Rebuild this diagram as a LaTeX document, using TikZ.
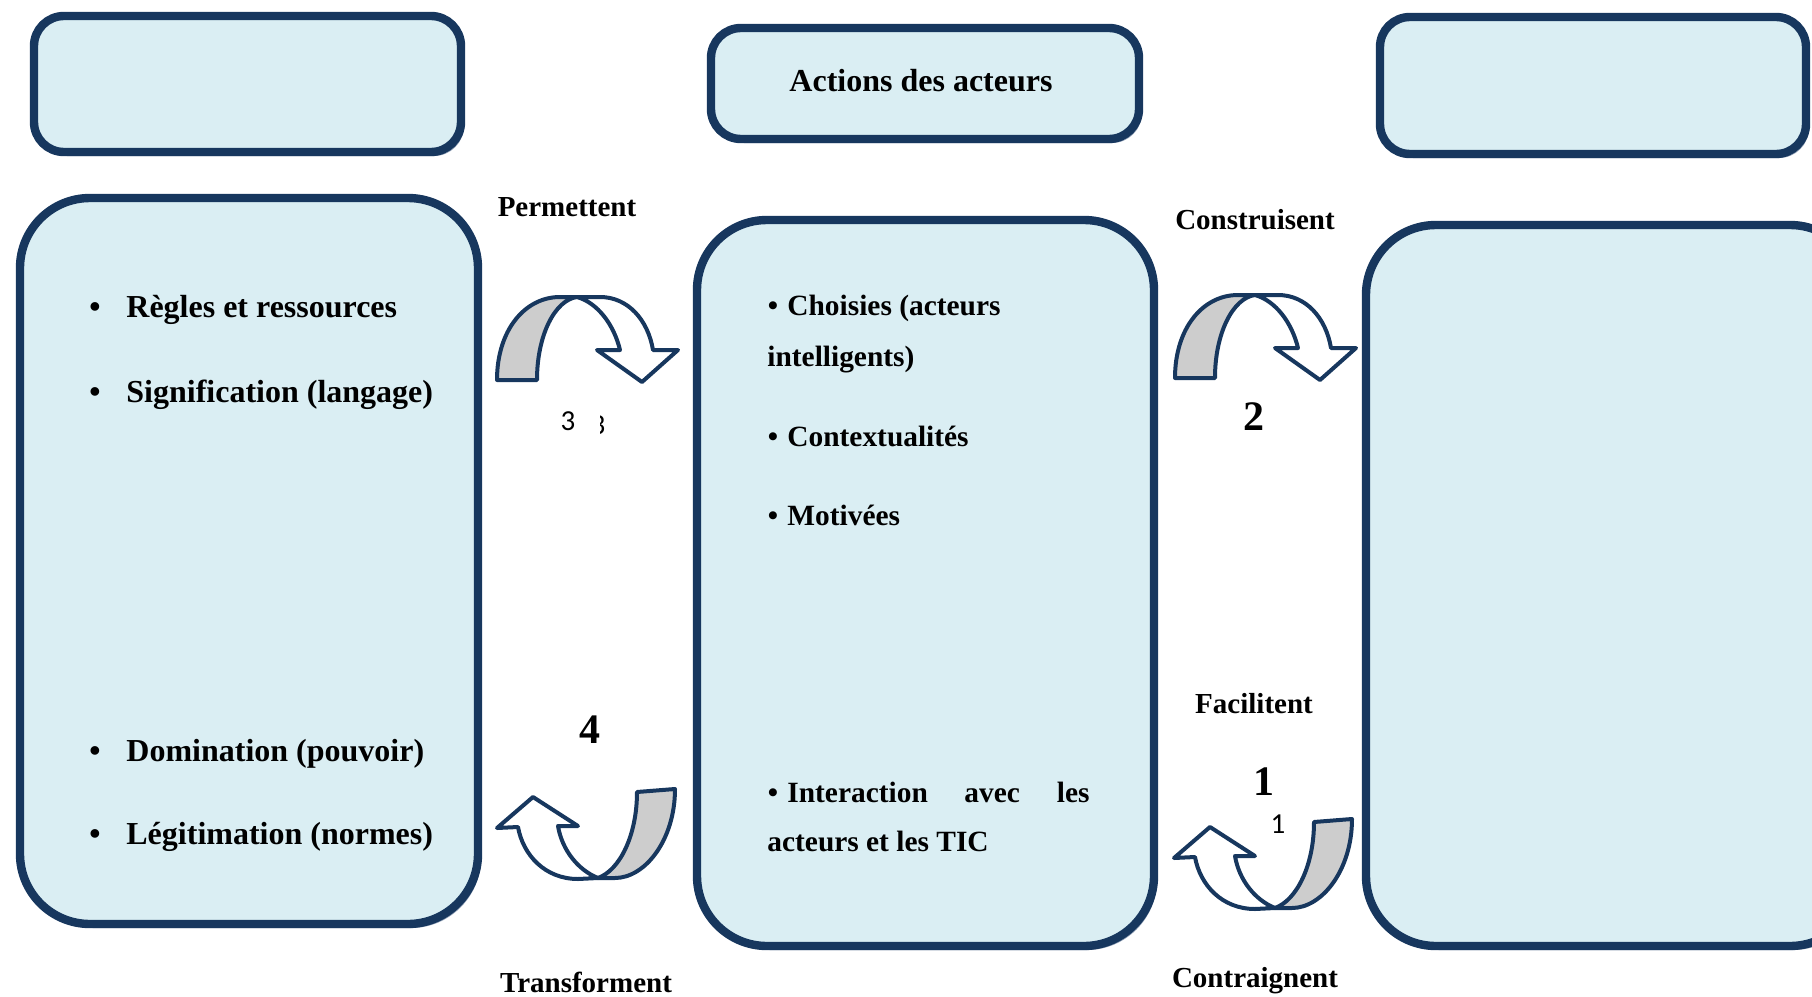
\documentclass[tikz,border=0pt]{standalone}
\usepackage{fontspec}
\setmainfont{Liberation Serif}
\newfontfamily\digitfont{Carlito}

\definecolor{boxfill}{HTML}{DAEEF3}
\definecolor{boxline}{HTML}{17375E}
\definecolor{boxshade}{HTML}{8E9EB4}
\definecolor{bandgray}{HTML}{CDCDCD}

\tikzset{
  panel/.style={draw=boxline, fill=boxfill, line width=4.2pt},
  panelshade/.style={fill=boxshade},
  band/.style={draw=boxline, line width=2pt, line join=round},
  itemtext/.style={font=\fontsize{16}{19}\selectfont\bfseries, inner sep=0pt, anchor=base west},
  dot/.style={font=\fontsize{16}{19}\selectfont\bfseries, inner sep=0pt, anchor=base},
  miditem/.style={font=\fontsize{14.7}{17}\selectfont\bfseries, inner sep=0pt, anchor=base west},
  middot/.style={font=\fontsize{14.7}{17}\selectfont\bfseries, inner sep=0pt, anchor=base},
  verb/.style={font=\fontsize{14.5}{17}\selectfont\bfseries, inner sep=0pt, anchor=base},
  bignum/.style={font=\fontsize{21}{25}\selectfont\bfseries, inner sep=0pt, anchor=base},
  smallnum/.style={font=\fontsize{14.5}{17}\selectfont\digitfont, inner sep=0pt, anchor=base},
  % ribbon arrow turning over the top, foot on the left, head pointing down
  overturn/.pic={
    \draw[band, fill=bandgray] (0,0) .. controls (0,-50) and (28,-83) .. (63,-83) -- (80,-83)
      .. controls (58,-80) and (40,-45) .. (40,0) -- cycle;
    \draw[band, fill=white] (80,-83) -- (103,-83) .. controls (131,-83) and (151,-60) .. (156,-30)
      -- (181,-30) -- (145,2) -- (100,-30) -- (123,-30)
      .. controls (117,-55) and (101,-77) .. (80,-83) -- cycle;
  },
  % ribbon arrow turning under the bottom, foot on the right, head pointing up
  underturn/.pic={
    \draw[band, fill=bandgray] (-38,3) -- (0,0) .. controls (0,51) and (-30,89) .. (-60,89) -- (-77,89)
      .. controls (-55,81) and (-38,46) .. (-38,3) -- cycle;
    \draw[band, fill=white] (-77,89) -- (-97,90) .. controls (-130,90) and (-152,66) .. (-157,38)
      -- (-178,39) -- (-142,8) -- (-97,37) -- (-117,37)
      .. controls (-113,61) and (-97,81) .. (-77,89) -- cycle;
  }
}

\begin{document}
\begin{tikzpicture}[x=0.5pt, y=-0.5pt]
\useasboundingbox (0,0) rectangle (1812,997);
\clip (0,0) rectangle (1812,997);

% header boxes
\fill[panelshade, rounded corners=15pt] (37,20) rectangle (464,156);
\draw[panel, rounded corners=15pt] (34,16) rectangle (461,152);
\fill[panelshade, rounded corners=15pt] (714,32) rectangle (1142,143);
\draw[panel, rounded corners=15pt] (711,28) rectangle (1139,139);
\fill[panelshade, rounded corners=15pt] (1383,21) rectangle (1809,158);
\draw[panel, rounded corners=15pt] (1380,17) rectangle (1806,154);

% main boxes
\fill[panelshade, rounded corners=35pt] (23,202) rectangle (481,928);
\draw[panel, rounded corners=35pt] (20,198) rectangle (478,924);
\fill[panelshade, rounded corners=35pt] (700,224) rectangle (1157,950);
\draw[panel, rounded corners=35pt] (697,220) rectangle (1154,946);
\fill[panelshade, rounded corners=35pt] (1369,229) rectangle (1863,950);
\draw[panel, rounded corners=35pt] (1366,225) rectangle (1860,946);

% header title
\node[font=\fontsize{16}{19}\selectfont\bfseries, inner sep=0pt, anchor=base] (title) at (921,91) {Actions des acteurs};

% left box items
\node[dot] (lb1) at (95,317) {•};
\node[itemtext] (lt1) at (126,317) {Règles et ressources};
\node[dot] (lb2) at (95,402) {•};
\node[itemtext] (lt2) at (126,402) {Signification (langage)};
\node[dot] (lb3) at (95,761) {•};
\node[itemtext] (lt3) at (126,761) {Domination (pouvoir)};
\node[dot] (lb4) at (95,844) {•};
\node[itemtext] (lt4) at (126,844) {Légitimation (normes)};

% middle box items
\node[middot] (mb1) at (773,315) {•};
\node[miditem] (mt1) at (787,315) {Choisies (acteurs};
\node[miditem] (mt1b) at (767,366) {intelligents)};
\node[middot] (mb2) at (773,446) {•};
\node[miditem] (mt2) at (787,446) {Contextualités};
\node[middot] (mb3) at (773,525) {•};
\node[miditem] (mt3) at (787,525) {Motivées};
\node[middot] (mb4) at (773,802) {•};
\node[miditem] (mt4a) at (787,802) {Interaction};
\node[miditem] (mt4b) at (964,802) {avec};
\node[miditem, anchor=base east] (mt4c) at (1090,802) {les};
\node[miditem] (mt4d) at (767,851) {acteurs et les TIC};

% verbs between the boxes
\node[verb] (permettent) at (567,216) {Permettent};
\node[verb] (construisent) at (1255,229) {Construisent};
\node[verb] (facilitent) at (1254,713) {Facilitent};
\node[verb] (contraignent) at (1255,987) {Contraignent};
\node[verb] (transforment) at (586,992) {Transforment};

% cycle numbers
\node[bignum] (n2) at (1254,430) {2};
\node[bignum] (n4) at (590,743) {4};
\node[bignum] (n1) at (1264,795) {1};
\node[smallnum] (s3) at (568,430) {3};
\node[smallnum] (s1) at (1278,833) {1};
\begin{scope}
  \clip (600,410) rectangle (606,442);
  \node[smallnum] (s3cut) at (598,434) {3};
\end{scope}

% ribbon arrows
\pic at (497,380) {overturn};
\pic at (1175,378) {overturn};
\pic at (675,789) {underturn};
\pic at (1352,819) {underturn};
\end{tikzpicture}
\end{document}
